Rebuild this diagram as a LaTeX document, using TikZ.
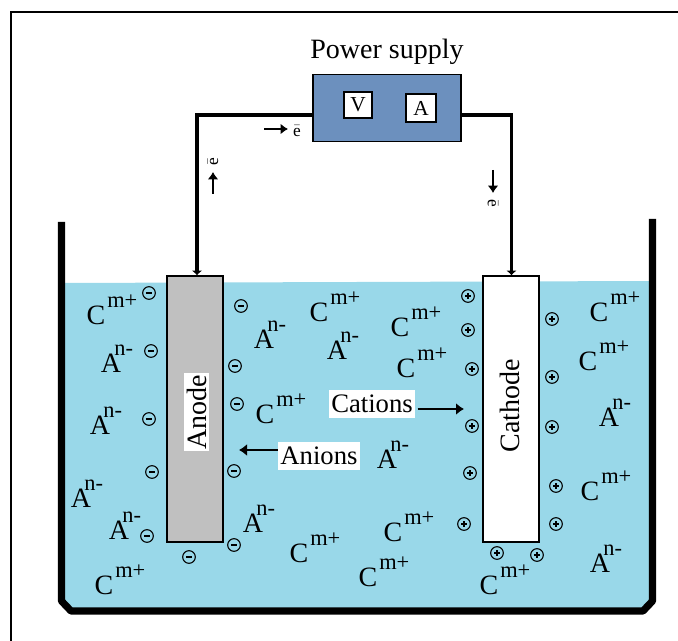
\documentclass[tikz,border=0pt]{standalone}
\usepackage{fontspec}
\setmainfont{Liberation Serif}
\usetikzlibrary{arrows.meta}
\definecolor{liquid}{HTML}{99D8E9}
\definecolor{psblue}{HTML}{6C90BE}
\definecolor{anodegray}{HTML}{C0C0C0}
\tikzset{
  x=0.75pt,y=-0.75pt,
  wire/.style={line width=2.5pt,draw=black},
  meter/.style={draw=black,line width=1.3pt,fill=white,inner sep=0pt,font=\fontsize{16}{16}\selectfont},
  lab/.style={fill=white,inner xsep=2pt,inner ysep=0pt,minimum height=21pt,font=\fontsize{20}{20}\selectfont},
  rotlab/.style={fill=white,inner xsep=1pt,inner ysep=0pt,minimum height=19pt,rotate=90,font=\fontsize{21}{21}\selectfont},
  ion/.style={inner sep=0pt,yshift=1pt,font=\fontsize{21}{21}\selectfont},
  negion/.style={circle,draw=black,line width=0.8pt,minimum size=9.5pt,inner sep=0pt,
    path picture={\draw[line width=0.9pt] ([xshift=-2.4pt]path picture bounding box.center)--([xshift=2.4pt]path picture bounding box.center);}},
  posion/.style={circle,draw=black,line width=0.8pt,minimum size=9.5pt,inner sep=0pt,
    path picture={\draw[line width=0.9pt] ([xshift=-2pt]path picture bounding box.center)--([xshift=2pt]path picture bounding box.center);\draw[line width=0.9pt] ([yshift=-2pt]path picture bounding box.center)--([yshift=2pt]path picture bounding box.center);}},
  flow/.style={draw=black,line width=1.1pt,-{Latex[length=6pt,width=9pt]}},
  eflow/.style={draw=black,line width=1pt,-{Latex[length=5.5pt,width=8pt]}},
  ebar/.style={font=\fontsize{13}{13}\selectfont,inner sep=0pt},
  wiretip/.style={-{Latex[length=3.5pt,width=8pt]}},
}
\newcommand{\Cat}{C\kern1.5pt\raisebox{12.5pt}{\fontsize{16.8}{16.8}\selectfont m+}}
\newcommand{\Ani}{A\kern-5pt\raisebox{12.8pt}{\fontsize{16.8}{16.8}\selectfont n-}}
\begin{document}
\begin{tikzpicture}
\useasboundingbox (0,0) rectangle (678,641);
\fill[white] (0,0) rectangle (678,641);
\draw[line width=1.1pt] (11,641)--(11,12)--(678,12);
% liquid
\fill[liquid] (62,283) -- (652,281) -- (652,601) -- (643,611) -- (71,611) -- (62,601) -- cycle;
% tank
\draw[line width=5.4pt,line join=bevel] (61.5,222)--(61.5,601)--(71,611)--(643,611)--(652.5,601)--(652.5,219);
% power
\node[draw=black,line width=1.2pt,fill=psblue,minimum width=111pt,minimum height=50.5pt,inner sep=0pt] (ps) at (387,108) {};
\node[font=\fontsize{21}{21}\selectfont] (pstitle) at (387,52) {Power supply};
\node[meter,minimum width=21pt,minimum height=20pt] (v) at (358,105) {V};
\node[meter,minimum width=22pt,minimum height=21pt] (a) at (421,108) {A};
% electrodes
\node[draw=black,line width=1.1pt,fill=anodegray,minimum width=42pt,minimum height=199.5pt,inner sep=0pt] (an) at (195,409) {};
\node[draw=black,line width=1.1pt,fill=white,minimum width=42pt,minimum height=199.5pt,inner sep=0pt] (ca) at (511,409) {};
\node[rotlab] (anl) at (196.5,412) {Anode};
\node[rotlab] (cal) at (510,406) {Cathode};
% wires
\coordinate (wl) at (197,115);
\coordinate (wr) at (511.5,115);
\draw[wire,wiretip] (ps.west|-wl) -- (wl) -- (an.north-|wl);
\draw[wire,wiretip] (ps.east|-wr) -- (wr) -- (ca.north-|wr);
% electron flow
\coordinate (f1a) at (264,129); \coordinate (f1b) at (288,129);
\coordinate (f2a) at (213,194); \coordinate (f2b) at (213,172);
\coordinate (f3a) at (493,170); \coordinate (f3b) at (493,193);
\draw[eflow] (f1a)--(f1b);
\draw[eflow] (f2a)--(f2b);
\draw[eflow] (f3a)--(f3b);
\node[ebar] (e1) at (297,131) {$\bar{\mathrm{e}}$};
\node[ebar,rotate=90] (e2) at (213,162) {$\bar{\mathrm{e}}$};
\node[ebar,rotate=-90] (e3) at (493,203) {$\bar{\mathrm{e}}$};
% labels & arrows
\node[lab] (cat) at (372,404) {Cations};
\node[lab] (ani) at (319,456) {Anions};
\coordinate (catend) at (464,409);
\coordinate (aniend) at (239,450);
\draw[flow] ([xshift=1.5pt]cat.east|-catend) -- (catend);
\draw[flow] (ani.west|-aniend) -- (aniend);
% ions
\foreach \n/\x/\y in {c1/112/311,c2/335/308,c3/416/323,c4/422/364,c5/281/410,c6/315/549,c7/409/528,c8/384/573,c9/120/581,c10/615/308,c11/604/357,c12/606/487,c13/505/581}
  \node[ion] (\n) at (\x,\y) {\Cat};
\foreach \n/\x/\y in {a1/117/360,a2/270/336,a3/343/347,a4/106/422,a5/393/456,a6/87/495,a7/125/527,a8/259/520,a9/615/414,a10/606/560}
  \node[ion] (\n) at (\x,\y) {\Ani};
\foreach \n/\x/\y in {n1/149/293,n2/151/351,n3/149/419,n4/152/472,n5/147/536,n6/241/306,n7/235/366,n8/237/404,n9/234/471,n10/234/545,n11/189/557}
  \node[negion] (\n) at (\x,\y) {};
\foreach \n/\x/\y in {p1/468/296,p2/468/330,p3/472/369,p4/472/426,p5/470/473,p6/464/524,p7/552/319,p8/552/377,p9/552/427,p10/556/486,p11/556/524,p12/497/553,p13/537/555}
  \node[posion] (\n) at (\x,\y) {};
\end{tikzpicture}
\end{document}
